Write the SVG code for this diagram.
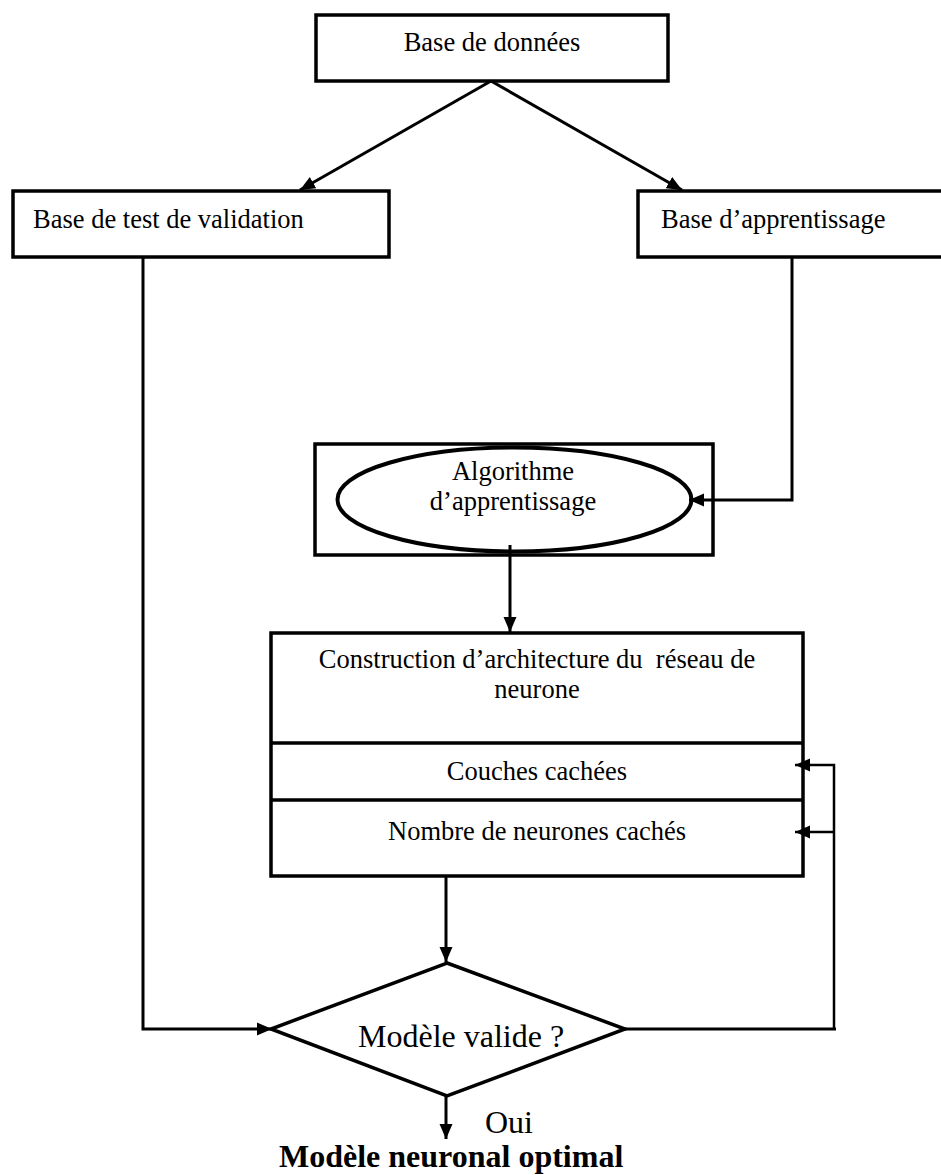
<svg xmlns="http://www.w3.org/2000/svg" width="941" height="1175" viewBox="0 0 941 1175">
  <style>
    .box { fill: #ffffff; stroke: #000000; stroke-width: 3.5; }
    .lbl { font-family: "Liberation Serif", "Times New Roman", serif; font-size: 26.5px; fill: #000000; white-space: pre; }
    .big { font-family: "Liberation Serif", "Times New Roman", serif; font-size: 32px; fill: #000000; }
    .wire { fill: none; stroke: #000000; stroke-width: 3; }
    .thin { fill: none; stroke: #000000; stroke-width: 2.5; }
  </style>
  <defs>
    <marker id="arrow" markerUnits="userSpaceOnUse" markerWidth="16" markerHeight="16" viewBox="0 0 16 16" refX="15" refY="8" orient="auto">
      <path d="M0,1.5 L15,8 L0,14.5 Z" fill="#000000"/>
    </marker>
  </defs>

  <rect width="941" height="1175" fill="#ffffff"/>

  <!-- data base -->
  <g id="node-base">
    <rect class="box" x="316" y="15" width="352" height="66"/>
    <text class="lbl" x="492" y="51" text-anchor="middle">Base de données</text>
  </g>

  <!-- validation test set -->
  <g id="node-test">
    <rect class="box" x="13" y="191" width="376" height="66"/>
    <text class="lbl" x="33" y="228">Base de test de validation</text>
  </g>

  <!-- training set -->
  <g id="node-train">
    <rect class="box" x="638" y="191" width="310" height="66"/>
    <text class="lbl" x="661" y="228">Base d’apprentissage</text>
  </g>

  <!-- learning algorithm -->
  <g id="node-algo">
    <rect class="box" x="315" y="444" width="398" height="111"/>
    <ellipse cx="514.5" cy="499.5" rx="177" ry="52" fill="#ffffff" stroke="#000000" stroke-width="4"/>
    <text class="lbl" x="513" y="480" text-anchor="middle">Algorithme</text>
    <text class="lbl" x="513" y="510" text-anchor="middle">d’apprentissage</text>
  </g>

  <!-- network architecture -->
  <g id="node-arch">
    <rect class="box" x="271" y="633" width="532" height="243"/>
    <line x1="271" y1="743" x2="803" y2="743" stroke="#000000" stroke-width="3.5"/>
    <line x1="271" y1="800" x2="803" y2="800" stroke="#000000" stroke-width="3.5"/>
    <text class="lbl" x="537" y="668" text-anchor="middle">Construction d’architecture du  réseau de</text>
    <text class="lbl" x="537" y="698" text-anchor="middle">neurone</text>
    <text class="lbl" x="537" y="780" text-anchor="middle">Couches cachées</text>
    <text class="lbl" x="537" y="840" text-anchor="middle">Nombre de neurones cachés</text>
  </g>

  <!-- validity test -->
  <g id="node-decision">
    <polygon points="447,963 625,1029 447,1096 271,1029" fill="#ffffff" stroke="#000000" stroke-width="3.5"/>
    <text class="big" x="358" y="1047">Modèle valide ?</text>
  </g>

  <!-- result -->
  <g id="node-result">
    <text class="big" x="485" y="1133">Oui</text>
    <text class="big" x="279" y="1167" font-weight="bold">Modèle neuronal optimal</text>
  </g>

  <!-- connectors, drawn over the nodes -->
  <g id="connectors">
    <line class="wire" x1="491" y1="81" x2="300" y2="190" marker-end="url(#arrow)"/>
    <line class="wire" x1="491" y1="81" x2="682" y2="190" marker-end="url(#arrow)"/>
    <polyline class="wire" points="792,257 792,500 689,500" marker-end="url(#arrow)"/>
    <line class="wire" x1="510" y1="545" x2="510" y2="632" marker-end="url(#arrow)"/>
    <line class="wire" x1="446" y1="876" x2="446" y2="962" marker-end="url(#arrow)"/>
    <polyline class="wire" points="143,257 143,1029 272,1029" marker-end="url(#arrow)"/>
    <polyline class="wire" points="625,1029 836,1029"/>
    <polyline class="thin" points="834,1029 834,765 795,765" marker-end="url(#arrow)"/>
    <line class="thin" x1="834" y1="832" x2="795" y2="832" marker-end="url(#arrow)"/>
    <line class="wire" x1="446" y1="1096" x2="446" y2="1139" marker-end="url(#arrow)"/>
  </g>
</svg>
